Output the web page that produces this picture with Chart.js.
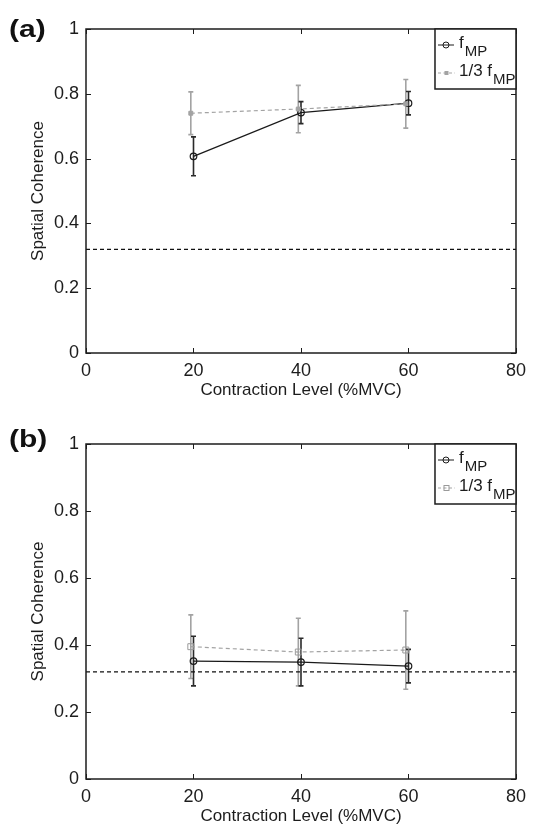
<!DOCTYPE html>
<html>
<head>
<meta charset="utf-8">
<title>Spatial coherence vs contraction level</title>
<script src="https://cdn.jsdelivr.net/npm/chart.js@4.4.0/dist/chart.umd.min.js"></script>
<style>
	html, body { margin: 0; padding: 0; background: #fff; }
	canvas { display: block; }
</style>
</head>
<body>
<canvas id="chartA" width="533" height="410"></canvas>
<canvas id="chartB" width="533" height="418"></canvas>
<script>
// contraction levels (%MVC); the 1/3 fMP series is nudged left so bars don't overlap
var levelsFmp = [20, 40, 60];
var levelsThird = [19.5, 39.5, 59.5];

// panel (a)
var fmpA = [0.607, 0.742, 0.771];
var fmpErrA = [0.060, 0.034, 0.036];
var thirdA = [0.740, 0.753, 0.769];
var thirdErrA = [0.066, 0.073, 0.075];

// panel (b)
var fmpB = [0.352, 0.349, 0.337];
var fmpErrB = [0.074, 0.071, 0.050];
var thirdB = [0.395, 0.379, 0.385];
var thirdErrB = [0.095, 0.101, 0.117];

// significance threshold
var chanceLevel = 0.32;

var xTicks = [0, 20, 40, 60, 80];
var yTicks = [0, 0.2, 0.4, 0.6, 0.8, 1];

var FONT = '"Liberation Sans", Arial, Helvetica, sans-serif';
var INK = '#1c1c1c';
var GREY = '#a3a3a3';

function toPoints(xs, ys) {
	var pts = [];
	for (var i = 0; i < xs.length; i++) {
		pts.push({ x: xs[i], y: ys[i] });
	}
	return pts;
}

function drawErrorBars(ctx, xs, ys, errs, sx, sy, color) {
	ctx.save();
	ctx.strokeStyle = color;
	ctx.lineWidth = 1.6;
	for (var i = 0; i < xs.length; i++) {
		var px = sx.getPixelForValue(xs[i]);
		var top = sy.getPixelForValue(ys[i] + errs[i]);
		var bot = sy.getPixelForValue(ys[i] - errs[i]);
		ctx.beginPath();
		ctx.moveTo(px, top); ctx.lineTo(px, bot);
		ctx.moveTo(px - 2.5, top); ctx.lineTo(px + 2.5, top);
		ctx.moveTo(px - 2.5, bot); ctx.lineTo(px + 2.5, bot);
		ctx.stroke();
	}
	ctx.restore();
}

// legend entry text with a subscript after it
function drawLabel(ctx, x, y, main, sub) {
	ctx.font = '17px ' + FONT;
	ctx.textBaseline = 'middle';
	ctx.fillStyle = INK;
	ctx.fillText(main, x, y - 2);
	var w = ctx.measureText(main).width;
	ctx.font = '15px ' + FONT;
	ctx.fillText(sub, x + w + 1, y + 7);
}

function makePanel(canvasId, tag, fmp, fmpErr, third, thirdErr, filledSquares, topPad, bottomPad) {

	var panelPlugin = {
		id: 'panel' + tag,
		beforeDatasetsDraw: function(chart) {
			var ctx = chart.ctx, sx = chart.scales.x, sy = chart.scales.y;
			drawErrorBars(ctx, levelsThird, third, thirdErr, sx, sy, GREY);
			drawErrorBars(ctx, levelsFmp, fmp, fmpErr, sx, sy, '#2a2a2a');
		},
		afterDraw: function(chart) {
			var ctx = chart.ctx, a = chart.chartArea;
			var sx = chart.scales.x, sy = chart.scales.y;
			ctx.save();

			// axes box with inward ticks on all four sides
			ctx.strokeStyle = INK;
			ctx.lineWidth = 1.5;
			ctx.strokeRect(a.left, a.top, a.right - a.left, a.bottom - a.top);
			ctx.lineWidth = 1;
			ctx.beginPath();
			yTicks.forEach(function(v) {
				var py = Math.round(sy.getPixelForValue(v)) + 0.5;
				ctx.moveTo(a.left, py); ctx.lineTo(a.left + 5, py);
				ctx.moveTo(a.right, py); ctx.lineTo(a.right - 5, py);
			});
			xTicks.forEach(function(v) {
				var px = Math.round(sx.getPixelForValue(v)) + 0.5;
				ctx.moveTo(px, a.bottom); ctx.lineTo(px, a.bottom - 5);
				ctx.moveTo(px, a.top); ctx.lineTo(px, a.top + 5);
			});
			ctx.stroke();

			// legend
			var lw = 81, lh = 60;
			var lx = a.right - lw, ly = a.top;
			ctx.fillStyle = '#fff';
			ctx.fillRect(lx, ly, lw, lh);
			ctx.lineWidth = 1.5;
			ctx.strokeStyle = INK;
			ctx.strokeRect(lx, ly, lw, lh);

			var r1 = ly + 16, r2 = ly + 44;
			ctx.lineWidth = 1;
			ctx.strokeStyle = INK;
			ctx.beginPath();
			ctx.moveTo(lx + 3, r1); ctx.lineTo(lx + 19, r1);
			ctx.stroke();
			ctx.beginPath();
			ctx.arc(lx + 11, r1, 3, 0, Math.PI * 2);
			ctx.stroke();

			ctx.strokeStyle = GREY;
			ctx.setLineDash([3, 2.5]);
			ctx.beginPath();
			ctx.moveTo(lx + 3, r2); ctx.lineTo(lx + 20, r2);
			ctx.stroke();
			ctx.setLineDash([]);
			if (filledSquares) {
				ctx.fillStyle = GREY;
				ctx.fillRect(lx + 9.5, r2 - 2, 4, 4);
			} else {
				ctx.strokeStyle = '#9a9a9a';
				ctx.strokeRect(lx + 9, r2 - 2.5, 5, 5);
			}

			drawLabel(ctx, lx + 24, r1, 'f', 'MP');
			drawLabel(ctx, lx + 24, r2, '1/3 f', 'MP');

			// panel tag
			ctx.translate(9, 30);
			ctx.scale(1.25, 1);
			ctx.font = 'bold 24px ' + FONT;
			ctx.fillStyle = '#111';
			ctx.textBaseline = 'middle';
			ctx.fillText(tag, 0, 0);
			ctx.restore();
		}
	};

	var data = {
		datasets: [
			{
				label: '1/3 fMP',
				data: toPoints(levelsThird, third),
				showLine: true,
				borderColor: GREY,
				borderWidth: 1.2,
				borderDash: [4, 3],
				pointStyle: 'rect',
				pointRadius: filledSquares ? 2.8 : 4.2,
				pointBorderWidth: 1,
				pointBorderColor: filledSquares ? GREY : '#9a9a9a',
				pointBackgroundColor: filledSquares ? GREY : 'rgba(0,0,0,0)'
			},
			{
				label: 'fMP',
				data: toPoints(levelsFmp, fmp),
				showLine: true,
				borderColor: '#1a1a1a',
				borderWidth: 1.2,
				pointStyle: 'circle',
				pointRadius: 3.3,
				pointBorderWidth: 1.2,
				pointBorderColor: '#1a1a1a',
				pointBackgroundColor: 'rgba(0,0,0,0)'
			},
			{
				label: 'threshold',
				data: [{ x: xTicks[0], y: chanceLevel }, { x: xTicks[xTicks.length - 1], y: chanceLevel }],
				showLine: true,
				borderColor: '#111',
				borderWidth: 1.2,
				borderDash: [4, 3],
				pointRadius: 0
			}
		]
	};

	var options = {
		responsive: false,
		animation: false,
		layout: {
			padding: { left: 24, right: 10, top: topPad, bottom: bottomPad }
		},
		plugins: {
			legend: { display: false },
			tooltip: { enabled: false }
		},
		scales: {
			x: {
				type: 'linear',
				min: 0,
				max: 80,
				grid: { display: false, drawTicks: false, tickLength: 0 },
				border: { display: false },
				afterBuildTicks: function(s) { s.ticks = xTicks.map(function(v) { return { value: v }; }); },
				afterFit: function(s) { s.height = 48; },
				ticks: {
					padding: 7,
					color: INK,
					font: { family: FONT, size: 18 },
					callback: function(v) { return String(v); }
				},
				title: {
					display: true,
					text: 'Contraction Level (%MVC)',
					color: INK,
					padding: 0,
					font: { family: FONT, size: 17 }
				}
			},
			y: {
				type: 'linear',
				min: 0,
				max: 1,
				grid: { display: false, drawTicks: false, tickLength: 0 },
				border: { display: false },
				afterBuildTicks: function(s) { s.ticks = yTicks.map(function(v) { return { value: v }; }); },
				afterFit: function(s) { s.width = 62; },
				ticks: {
					padding: 7,
					color: INK,
					font: { family: FONT, size: 18 },
					callback: function(v) { return String(+v.toFixed(1)); }
				},
				title: {
					display: true,
					text: 'Spatial Coherence',
					color: INK,
					padding: 4,
					font: { family: FONT, size: 17 }
				}
			}
		}
	};

	return new Chart(document.getElementById(canvasId), {
		type: 'scatter',
		data: data,
		options: options,
		plugins: [panelPlugin]
	});
}

makePanel('chartA', '(a)', fmpA, fmpErrA, thirdA, thirdErrA, true, 29, 9);
makePanel('chartB', '(b)', fmpB, fmpErrB, thirdB, thirdErrB, false, 34, 1);
</script>
</body>
</html>
